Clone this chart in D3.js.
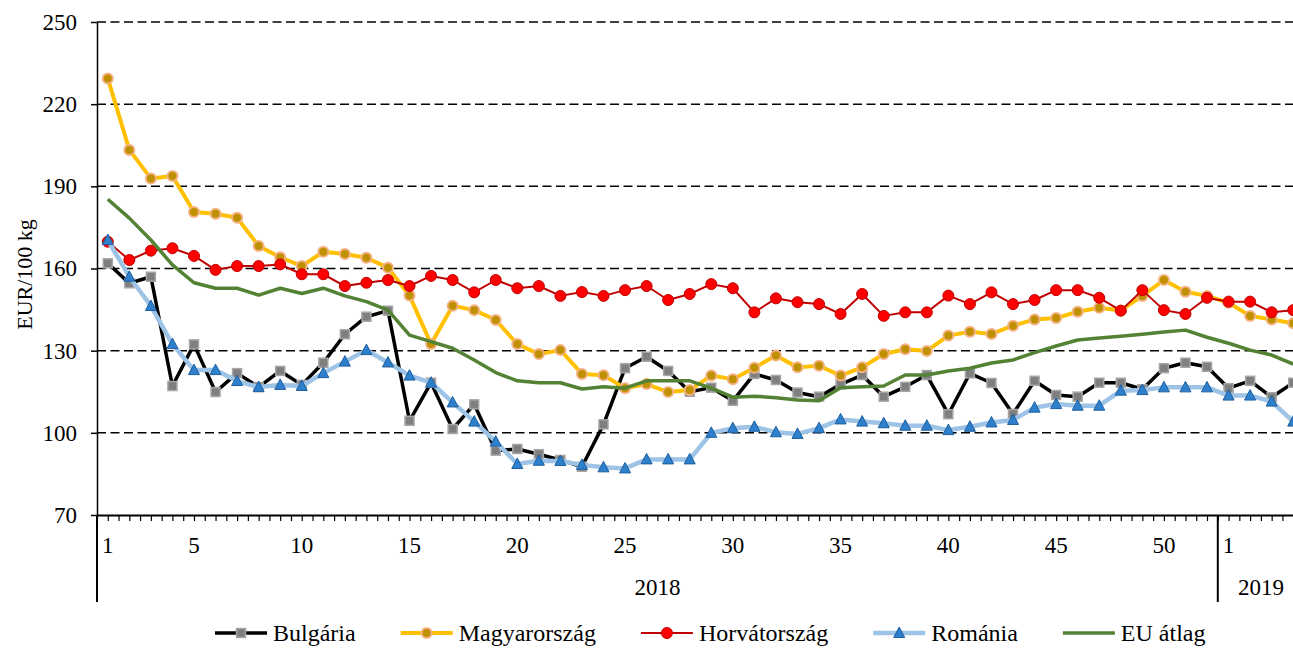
<!DOCTYPE html>
<html>
<head>
<meta charset="utf-8">
<script src="https://cdn.jsdelivr.net/npm/d3@7"></script>
<style>
  html, body { margin: 0; padding: 0; background: #fff; }
  svg { display: block; overflow: hidden; }
  text { font-family: "Liberation Serif", "Times New Roman", serif; fill: #000; }
</style>
</head>
<body>
<div id="chart"></div>
<script>
// categories: weeks 1-52 of 2018 and 1-4 of 2019
const weeks2018 = d3.range(1, 53);
const weeks2019 = [1, 2, 3, 4];
const yearLabels = ["2018", "2019"];
const labelledWeeks2018 = [1, 5, 10, 15, 20, 25, 30, 35, 40, 45, 50];
const labelledWeeks2019 = [1];
const yTicks = [70, 100, 130, 160, 190, 220, 250];

// EUR/100 kg
const bulgaria = [161.9,154.6,157.0,117.1,132.3,114.9,121.8,116.7,122.6,117.5,125.6,136.0,142.4,144.6,104.4,118.3,101.4,110.4,93.5,94.1,92.2,90.1,87.6,103.1,123.6,127.8,122.6,115.0,116.5,111.7,121.5,119.3,114.7,113.2,117.7,121.1,113.2,116.8,121.1,106.8,121.7,118.2,106.9,119.0,113.8,113.2,118.3,118.3,115.9,123.6,125.6,124.1,116.3,119.0,113.0,118.3];
const magyarorszag = [229.4,203.3,192.9,193.8,180.6,180.0,178.5,168.2,164.1,160.9,166.1,165.3,163.9,160.3,150.1,132.4,146.4,144.8,141.2,132.4,128.8,130.2,121.5,121.0,116.3,117.8,114.9,115.6,120.9,119.6,123.8,128.2,123.9,124.5,120.9,123.9,128.8,130.5,129.9,135.5,136.9,136.1,139.1,141.4,141.9,144.2,145.7,144.7,150.0,155.8,151.5,150.0,147.5,142.7,141.4,140.0];
const horvatorszag = [169.8,163.1,166.5,167.4,164.6,159.5,160.9,160.9,161.5,157.9,157.9,153.6,154.8,155.8,153.6,157.3,155.8,151.3,155.8,152.8,153.6,150.0,151.4,150.0,152.1,153.6,148.5,150.7,154.3,152.8,144.0,149.1,147.7,147.0,143.4,150.7,142.7,144.0,144.0,150.1,147.0,151.3,147.0,148.5,152.1,152.1,149.3,144.6,152.1,144.8,143.4,149.3,147.9,147.9,144.0,144.8];
const romania = [170.4,157.0,146.3,132.4,122.9,122.9,118.9,116.7,117.5,117.1,121.8,126.0,130.2,125.7,120.9,118.3,111.1,104.1,96.8,88.6,89.8,89.7,88.3,87.4,87.0,90.3,90.3,90.3,100.0,101.7,102.2,100.2,99.6,101.7,104.9,104.1,103.5,102.6,102.6,101.0,102.2,103.8,104.7,109.2,110.5,109.9,109.9,115.4,115.6,116.6,116.6,116.6,113.6,113.6,111.4,104.1];
const euAtlag = [185.3,178.4,170.4,161.3,154.8,152.8,152.8,150.3,152.8,150.9,152.8,150.0,147.9,144.8,135.7,133.3,130.9,126.6,122.0,119.0,118.3,118.3,116.0,116.8,116.3,119.0,119.0,119.0,116.3,113.0,113.4,112.8,112.0,111.7,116.5,116.8,117.1,121.1,121.1,122.6,123.6,125.5,126.6,129.3,131.7,133.9,134.6,135.3,136.0,136.8,137.5,134.9,132.7,130.2,128.4,125.1];

const categories = weeks2018.map(w => "2018-" + w).concat(weeks2019.map(w => "2019-" + w));

// series styles (drawing order = legend order)
const series = [
    { name: "Bulgária", values: bulgaria, line: "#000000", lw: 3.5, marker: "square", fill: "#7f7f7f", stroke: "#a6a6a6" },
    { name: "Magyarország", values: magyarorszag, line: "#ffc000", lw: 4, marker: "circle", fill: "#bf9000", stroke: "#f4b183" },
    { name: "Horvátország", values: horvatorszag, line: "#c00000", lw: 2, marker: "circle", fill: "#ff0000", stroke: "#c00000", r: 5.5 },
    { name: "Románia", values: romania, line: "#9dc3e6", lw: 4.5, marker: "triangle", fill: "#2e80cc", stroke: "#1f5f9f" },
    { name: "EU átlag", values: euAtlag, line: "#548235", lw: 3.5, marker: null }
];

const W = 1293, H = 648;
const plot = { left: 97, right: 1304, top: 22, bottom: 515 };

const svg = d3.select("#chart").append("svg")
    .attr("width", W)
    .attr("height", H);

// Scales
const x = d3.scaleBand()
    .domain(categories)
    .range([plot.left, plot.right]);
const cx = i => x(categories[i]) + x.bandwidth() / 2;

const y = d3.scaleLinear()
    .domain([70, 250])
    .range([plot.bottom, plot.top]);

// dashed gridlines
svg.append("g")
    .selectAll("line")
    .data(yTicks.filter(t => t > 70))
    .join("line")
    .attr("x1", plot.left)
    .attr("x2", W)
    .attr("y1", d => y(d))
    .attr("y2", d => y(d))
    .attr("stroke", "#000")
    .attr("stroke-width", 1.5)
    .attr("stroke-dasharray", "9,4.5");

// Y axis
const yAxis = svg.append("g")
    .attr("transform", `translate(${plot.left},0)`)
    .call(d3.axisLeft(y).tickValues(yTicks).tickSize(6).tickPadding(14).tickSizeOuter(0));
yAxis.select(".domain").attr("stroke-width", 1.5);
yAxis.selectAll(".tick line").attr("stroke-width", 1.5);
yAxis.selectAll("text")
    .style("font-family", "Liberation Serif, serif")
    .style("font-size", "23px");

svg.append("text")
    .attr("transform", `translate(24,${(plot.top + plot.bottom) / 2 + 6}) rotate(-90)`)
    .attr("text-anchor", "middle")
    .attr("dy", "0.35em")
    .style("font-size", "22px")
    .text("EUR/100 kg");

// X axis: minor marks every half category
const xMarks = d3.scaleLinear()
    .domain([0, categories.length * 2])
    .range([plot.left, plot.right]);
const xAxis = svg.append("g")
    .attr("transform", `translate(0,${plot.bottom})`)
    .call(d3.axisBottom(xMarks)
        .tickValues(d3.range(0, categories.length * 2 + 1))
        .tickSize(6)
        .tickFormat("")
        .tickSizeOuter(0));
xAxis.select(".domain").attr("stroke-width", 2);
xAxis.selectAll(".tick line").attr("stroke-width", 1.2);

// week labels
const weekLabels = labelledWeeks2018.map(w => ({ label: w, cat: "2018-" + w }))
    .concat(labelledWeeks2019.map(w => ({ label: w, cat: "2019-" + w })));
svg.append("g")
    .selectAll("text")
    .data(weekLabels)
    .join("text")
    .attr("x", d => x(d.cat) + x.bandwidth() / 2)
    .attr("y", 553)
    .attr("text-anchor", "middle")
    .style("font-size", "23px")
    .text(d => d.label);

// year separators and labels
const split = x("2019-1");
[plot.left, split].forEach(sx => {
    svg.append("line")
        .attr("x1", sx).attr("x2", sx)
        .attr("y1", plot.bottom).attr("y2", 602)
        .attr("stroke", "#000")
        .attr("stroke-width", 2);
});
svg.append("text")
    .attr("x", (plot.left + split) / 2)
    .attr("y", 595)
    .attr("text-anchor", "middle")
    .style("font-size", "23px")
    .text(yearLabels[0]);
svg.append("text")
    .attr("x", (split + plot.right) / 2)
    .attr("y", 595)
    .attr("text-anchor", "middle")
    .style("font-size", "23px")
    .text(yearLabels[1]);

// marker drawing helper
function drawMarker(sel, s) {
    if (s.marker === "square") {
        sel.append("rect")
            .attr("x", -4.5).attr("y", -4.5)
            .attr("width", 9).attr("height", 9)
            .attr("fill", s.fill)
            .attr("stroke", s.stroke)
            .attr("stroke-width", 1.5);
    } else if (s.marker === "circle") {
        sel.append("circle")
            .attr("r", s.r || 5)
            .attr("fill", s.fill)
            .attr("stroke", s.stroke)
            .attr("stroke-width", s.r ? 1 : 2);
    } else if (s.marker === "triangle") {
        sel.append("path")
            .attr("d", "M0,-6 L5.5,4.5 L-5.5,4.5 Z")
            .attr("fill", s.fill)
            .attr("stroke", s.stroke)
            .attr("stroke-width", 1);
    }
}

// Lines and markers
const line = d3.line()
    .x((d, i) => cx(i))
    .y(d => y(d));

series.forEach(s => {
    const g = svg.append("g");
    g.append("path")
        .datum(s.values)
        .attr("fill", "none")
        .attr("stroke", s.line)
        .attr("stroke-width", s.lw)
        .attr("stroke-linejoin", "round")
        .attr("d", line);

    if (s.marker) {
        g.selectAll("g.pt")
            .data(s.values)
            .join("g")
            .attr("class", "pt")
            .attr("transform", (d, i) => `translate(${cx(i)},${y(d)})`)
            .each(function() { drawMarker(d3.select(this), s); });
    }
});

// Legend (a bit higher than the reference so descenders stay inside)
const legend = svg.append("g");
let lx = 215;
series.forEach(s => {
    const item = legend.append("g").attr("transform", `translate(${lx},633)`);
    item.append("line")
        .attr("x1", 0).attr("x2", 52)
        .attr("stroke", s.line)
        .attr("stroke-width", s.lw);
    if (s.marker) {
        drawMarker(item.append("g").attr("transform", "translate(26,0)"), s);
    }
    const t = item.append("text")
        .attr("x", 58)
        .attr("y", 8)
        .style("font-size", "24px")
        .text(s.name);
    lx += 58 + t.node().getComputedTextLength() + 45;
});
</script>
</body>
</html>
